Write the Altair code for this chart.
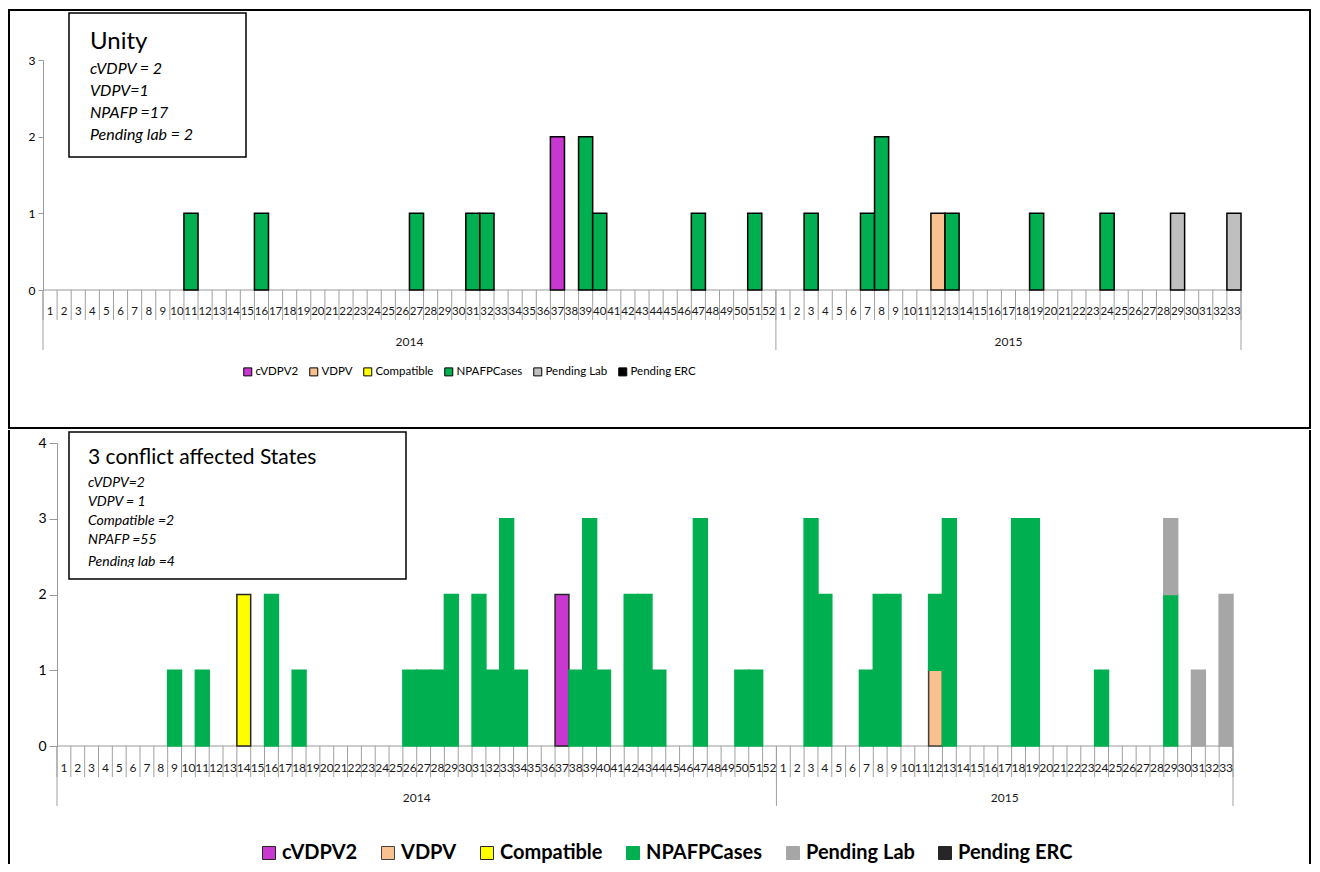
import altair as alt
import pandas as pd

# ---------------- data ----------------
weeks_2014 = list(range(1, 53))
weeks_2015 = list(range(1, 34))
year_labels = ["2014", "2015"]

series_names = ["cVDPV2", "VDPV", "Compatible", "NPAFPCases", "Pending Lab", "Pending ERC"]
top_colors = ["#C837D0", "#F9C18F", "#FFFF00", "#00B050", "#BFBFBF", "#000000"]
top_strokes = ["#000000", "#000000", "#000000", "#000000", "#000000", "#000000"]
bottom_colors = ["#C837D0", "#F9C18F", "#FFFF00", "#00B050", "#A6A6A6", "#262626"]
bottom_strokes = ["#262626", "#404040", "#262626", "#00B050", "#A6A6A6", "#262626"]

# (year, week, count)
unity_cvdpv2 = [(2014, 37, 2)]
unity_vdpv = [(2015, 12, 1)]
unity_compatible = []
unity_npafp = [(2014, 11, 1), (2014, 16, 1), (2014, 27, 1), (2014, 31, 1), (2014, 32, 1),
               (2014, 39, 2), (2014, 40, 1), (2014, 47, 1), (2014, 51, 1),
               (2015, 3, 1), (2015, 7, 1), (2015, 8, 2), (2015, 13, 1), (2015, 19, 1),
               (2015, 24, 1)]
unity_pending_lab = [(2015, 29, 1), (2015, 33, 1)]
unity_pending_erc = []

conf_cvdpv2 = [(2014, 37, 2)]
conf_vdpv = [(2015, 12, 1)]
conf_compatible = [(2014, 14, 2)]
conf_npafp = [(2014, 9, 1), (2014, 11, 1), (2014, 16, 2), (2014, 18, 1), (2014, 26, 1),
              (2014, 27, 1), (2014, 28, 1), (2014, 29, 2), (2014, 31, 2), (2014, 32, 1),
              (2014, 33, 3), (2014, 34, 1), (2014, 38, 1), (2014, 39, 3), (2014, 40, 1),
              (2014, 42, 2), (2014, 43, 2), (2014, 44, 1), (2014, 47, 3), (2014, 50, 1),
              (2014, 51, 1),
              (2015, 3, 3), (2015, 4, 2), (2015, 7, 1), (2015, 8, 2), (2015, 9, 2),
              (2015, 12, 1), (2015, 13, 3), (2015, 18, 3), (2015, 19, 3), (2015, 24, 1),
              (2015, 29, 2)]
conf_pending_lab = [(2015, 29, 1), (2015, 31, 1), (2015, 33, 2)]
conf_pending_erc = []

unity_title = "Unity"
unity_notes = ["cVDPV = 2", "VDPV=1", "NPAFP =17", "Pending lab = 2"]
conf_title = "3 conflict affected States"
conf_notes = ["cVDPV=2", "VDPV = 1", "Compatible =2", "NPAFP =55", "Pending lab =4"]

FONT = "Lato, 'Open Sans', sans-serif"
N14 = len(weeks_2014)
NCAT = N14 + len(weeks_2015)


def idx(year, week):
    return week - 1 if year == 2014 else N14 + week - 1


def stack(series, strokes):
    rows, base = [], {}
    for order, (name, pts) in enumerate(zip(series_names, series)):
        for yr, wk, n in pts:
            i = idx(yr, wk)
            y0 = base.get(i, 0)
            rows.append(dict(i=i, i2=i + 1, y0=y0, y1=y0 + n, type=name, sc=strokes[order]))
            base[i] = y0 + n
    return pd.DataFrame(rows)


labels = [str(w) for w in weeks_2014] + [str(w) for w in weeks_2015]
cat_df = pd.DataFrame({"c": [k + 0.5 for k in range(NCAT)], "label": labels})
bound_df = pd.DataFrame({"b": list(range(NCAT + 1))})
year_df = pd.DataFrame({"c": [N14 / 2, N14 + len(weeks_2015) / 2], "label": year_labels})
ybound_df = pd.DataFrame({"b": [0, N14, NCAT]})
base_df = pd.DataFrame({"x0": [0], "x1": [NCAT]})
one = pd.DataFrame({"a": [0]})


def stroke_expr(strokes):
    expr = "'#000000'"
    for name, s in zip(series_names, strokes):
        expr = f"datum.label == '{name}' ? '{s}' : ({expr})"
    return expr


def panel(bars, W, H, ymax, colors, strokes, g):
    x0p, x1p = g["xrange"]
    xs = alt.Scale(domain=[0, NCAT], range=[x0p, x1p], nice=False, zero=False)

    def X(f):
        return alt.X(f, scale=xs, axis=None, title=None)

    leg = alt.Legend(orient="none", legendX=g["legx"], legendY=g["legy"], direction="horizontal",
                     title=None, symbolType="square", symbolSize=g["sym"], padding=0,
                     labelFont=FONT, labelFontSize=g["legfs"], labelFontWeight=g["legfw"],
                     labelColor="#000", columnPadding=g["colpad"], labelOffset=g["laboff"],
                     symbolStrokeWidth=1, symbolOpacity=1,
                     symbolStrokeColor={"expr": stroke_expr(strokes)})
    bar = alt.Chart(bars).mark_bar(strokeWidth=1.5, opacity=1).encode(
        x=X("i:Q"),
        x2="i2:Q",
        y=alt.Y("y0:Q", scale=alt.Scale(domain=[0, ymax], nice=False), title=None,
                axis=alt.Axis(values=list(range(ymax + 1)), format="d", grid=False,
                              domainColor="#9A9A9A", tickColor="#9A9A9A", tickSize=g["tick"],
                              labelFont=FONT, labelFontSize=g["yfs"], labelColor="#000",
                              labelPadding=3, offset=g["yoff"])),
        y2="y1:Q",
        fill=alt.Fill("type:N", scale=alt.Scale(domain=series_names, range=colors), legend=leg),
        stroke=alt.Stroke("sc:N", scale=None),
    )

    sep = alt.Chart(bound_df).mark_rule(color="#A0A0A0", strokeWidth=1).encode(
        x=X("b:Q"), y=alt.value(H), y2=alt.value(H + g["sepdown"]))
    ysep = alt.Chart(ybound_df).mark_rule(color="#A0A0A0", strokeWidth=1).encode(
        x=X("b:Q"), y=alt.value(H), y2=alt.value(H + g["ysepdown"]))
    baseline = alt.Chart(base_df).mark_rule(color="#9A9A9A", strokeWidth=1).encode(
        x=X("x0:Q"), x2="x1:Q", y=alt.value(H))
    cats = alt.Chart(cat_df).mark_text(font=FONT, fontSize=g["catfs"], color="#1a1a1a",
                                       baseline="middle").encode(
        x=X("c:Q"), y=alt.value(H + g["catdy"]), text="label:N")
    yrs = alt.Chart(year_df).mark_text(font=FONT, fontSize=g["yrfs"], color="#1a1a1a",
                                       baseline="middle").encode(
        x=X("c:Q"), y=alt.value(H + g["yrdy"]), text="label:N")

    layers = g["frame"] + [sep, ysep, baseline, bar, cats, yrs]

    bx0, by0, bx1, by1 = g["box"]
    layers.append(alt.Chart(one).mark_rect(fill="white", stroke="#000", strokeWidth=1.5).encode(
        x=alt.value(bx0), x2=alt.value(bx1), y=alt.value(by0), y2=alt.value(by1)))
    tx, ty, tfs = g["title"]
    layers.append(alt.Chart(pd.DataFrame({"t": [g["title_text"]]})).mark_text(
        font=FONT, fontSize=tfs, align="left", baseline="middle", color="#000").encode(
        x=alt.value(tx), y=alt.value(ty), text="t:N"))
    for line, ly in zip(g["notes"], g["note_y"]):
        layers.append(alt.Chart(pd.DataFrame({"t": [line]})).mark_text(
            font=FONT, fontSize=g["notefs"], fontStyle="italic", align="left",
            baseline="middle", color="#000").encode(
            x=alt.value(tx), y=alt.value(ly), text="t:N"))
    layers += g["extra"]
    return alt.layer(*layers).properties(width=W, height=H)


# Both panels share the same plot origin (page x = 57); the top panel's
# category axis starts 14px further left, as in the original.

# ---- top panel (Unity) ----
TW, TH = 1184, 230
top_frame = [alt.Chart(one).mark_rect(fill="white", fillOpacity=0, stroke="#000", strokeWidth=2).encode(
    x=alt.value(-48), x2=alt.value(1253), y=alt.value(-50), y2=alt.value(368))]
top_geom = dict(xrange=(-14, 1184), yoff=14,
                legx=185, legy=306, sym=64, legfs=11.5, legfw="normal", colpad=8, laboff=2,
                tick=5, yfs=12, sepdown=30, ysepdown=60, catfs=11.5, catdy=22, yrfs=12, yrdy=52,
                frame=top_frame, box=(12, -47, 189, 97), title=(33, -18, 24),
                title_text=unity_title, notes=unity_notes, note_y=[9, 31, 53, 75], notefs=16,
                extra=[])
top = panel(stack([unity_cvdpv2, unity_vdpv, unity_compatible, unity_npafp,
                   unity_pending_lab, unity_pending_erc], top_strokes),
            TW, TH, 3, top_colors, top_strokes, top_geom)

# ---- bottom panel (3 conflict affected States) ----
BW, BH = 1176, 303
bottom_frame = [
    alt.Chart(one).mark_rule(color="#000", strokeWidth=2).encode(
        x=alt.value(-48), y=alt.value(-13), y2=alt.value(421)),
    alt.Chart(one).mark_rule(color="#000", strokeWidth=2).encode(
        x=alt.value(1253), y=alt.value(-13), y2=alt.value(421)),
]
clip_rect = alt.Chart(one).mark_rect(fill="white").encode(
    x=alt.value(13), x2=alt.value(348), y=alt.value(124), y2=alt.value(135))
bottom_geom = dict(xrange=(0, 1176), yoff=0,
                   legx=202, legy=400, sym=169, legfs=20, legfw="bold", colpad=20, laboff=3,
                   tick=8, yfs=14, sepdown=31, ysepdown=60, catfs=12, catdy=22, yrfs=12, yrdy=52,
                   frame=bottom_frame, box=(12, -11, 349, 136), title=(31, 15, 21),
                   title_text=conf_title, notes=conf_notes, note_y=[40, 59, 78, 97, 119],
                   notefs=14, extra=[clip_rect])
bottom = panel(stack([conf_cvdpv2, conf_vdpv, conf_compatible, conf_npafp,
                      conf_pending_lab, conf_pending_erc], bottom_strokes),
               BW, BH, 4, bottom_colors, bottom_strokes, bottom_geom)

chart = alt.vconcat(top, bottom, spacing=0).properties(
    padding={"left": 0, "top": 1, "right": 0, "bottom": 0}
).resolve_scale(fill="independent").configure(font=FONT).configure_view(stroke=None)

chart.save("out.html", embed_options={"renderer": "svg", "actions": False})
